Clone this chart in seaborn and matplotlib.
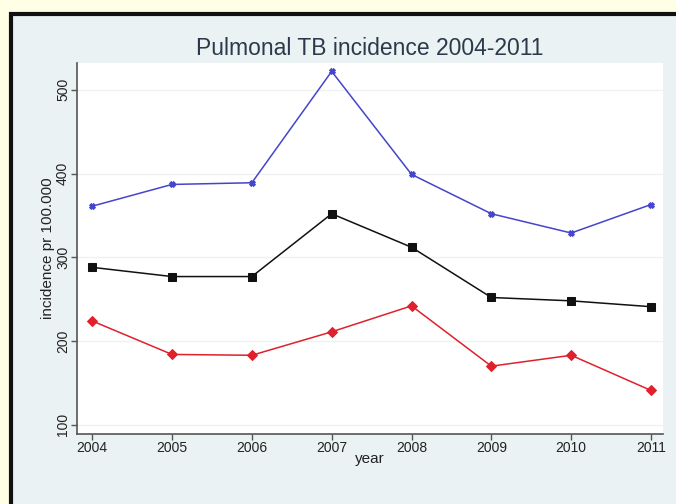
import matplotlib
matplotlib.use("Agg")
import matplotlib.pyplot as plt
from matplotlib.patches import Rectangle
import seaborn as sns
import pandas as pd

# data
years = [2004, 2005, 2006, 2007, 2008, 2009, 2010, 2011]
upper = [361, 387, 389, 522, 399, 352, 329, 363]
total = [288, 277, 277, 352, 312, 252, 248, 241]
lower = [224, 184, 183, 211, 242, 170, 183, 141]
y_ticks = [100, 200, 300, 400, 500]

df = pd.DataFrame({
    "year": years * 3,
    "incidence": upper + total + lower,
    "series": ["upper"] * 8 + ["total"] * 8 + ["lower"] * 8,
})

sns.set_theme(style="white")
plt.rcParams["font.family"] = ["Liberation Sans", "DejaVu Sans"]

fig = plt.figure(figsize=(6.76, 5.04), dpi=100)
fig.patch.set_facecolor("#FFFFE6")
# framed graph region (Stata-like), kept behind the axes
fig.patches.append(Rectangle((11 / 676, -0.01), 1.0, 1 - 14 / 504 + 0.01,
                             transform=fig.transFigure, facecolor="#EAF2F3",
                             edgecolor="#111111", linewidth=3, zorder=-10))

ax = fig.add_axes([77 / 676, 1 - 434 / 504, (663 - 77) / 676, (434 - 63) / 504])
ax.set_zorder(5)
ax.set_facecolor("white")

palette = {"upper": "#4444CC", "total": "#111111", "lower": "#E0202A"}
markers = {"upper": "X", "total": "s", "lower": "D"}
sizes = {"upper": 4, "total": 6, "lower": 5}
for name in ["upper", "total", "lower"]:
    sub = df[df["series"] == name]
    sns.lineplot(data=sub, x="year", y="incidence", ax=ax, color=palette[name],
                 marker=markers[name], markersize=sizes[name],
                 markeredgecolor=palette[name], linewidth=1.1)

ax.set_xlim(2003.81, 2011.15)
ax.set_ylim(89, 532)
ax.set_xticks(years)
ax.set_yticks(y_ticks)
ax.set_yticklabels([str(t) for t in y_ticks], rotation=90, va="center")
ax.grid(axis="y", color="#EEF2F2", linewidth=1)
ax.tick_params(axis="both", direction="out", length=4, width=1, color="#555555",
               labelsize=10, labelcolor="#222222", left=True, bottom=True, pad=1)
for s in ["top", "right"]:
    ax.spines[s].set_visible(False)
for s in ["left", "bottom"]:
    ax.spines[s].set_color("#555555")
    ax.spines[s].set_linewidth(1.2)

ax.set_xlabel("year", fontsize=11, color="#222222", labelpad=-2)
ax.set_ylabel("incidence pr 100.000", fontsize=11, color="#222222", labelpad=1)
ax.set_title("Pulmonal TB incidence 2004-2011", fontsize=16.5, color="#2a3a4a", pad=6)

fig.savefig("out.png", dpi=100, facecolor=fig.get_facecolor())
